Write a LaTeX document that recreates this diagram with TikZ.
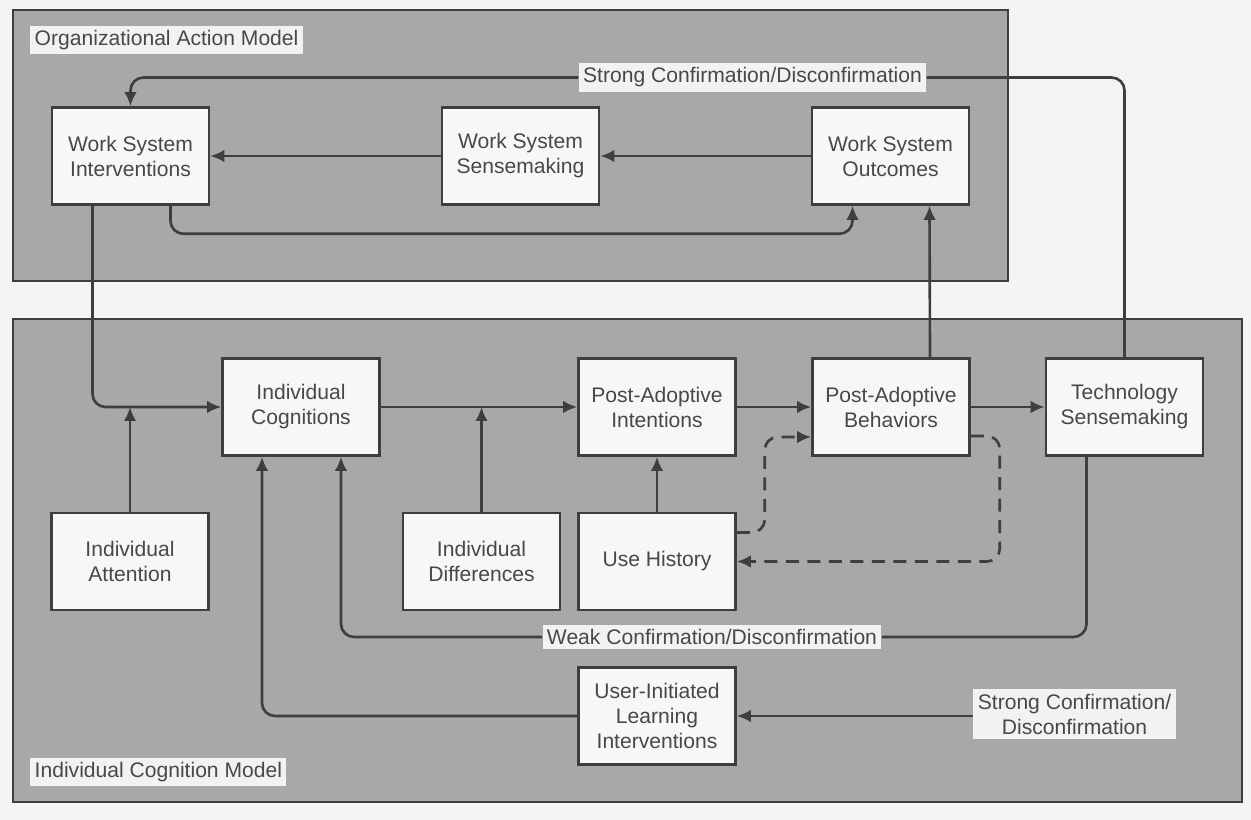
\documentclass[tikz,border=0pt]{standalone}
\usepackage{fontspec}
\setmainfont{Liberation Sans}
\usetikzlibrary{positioning,arrows.meta,calc}
\definecolor{ink}{RGB}{72,72,72}
\definecolor{wire}{RGB}{62,62,62}
\definecolor{panelgray}{RGB}{168,168,168}
\definecolor{boxfill}{RGB}{247,247,247}
\definecolor{tagfill}{RGB}{242,242,242}
\definecolor{paper}{RGB}{244,244,244}
\tikzset{
  box/.style={draw=wire, line width=1.5pt, fill=boxfill, align=center, text=ink,
              minimum width=3.14cm, minimum height=1.94cm, inner sep=2pt},
  panel/.style={draw=wire, line width=1.2pt, fill=panelgray},
  lbl/.style={fill=tagfill, text=ink, align=center, inner sep=2.5pt},
  conn/.style={draw=wire, line width=1.5pt, rounded corners=0.26cm},
  arr/.style={conn, -{Latex[length=2.8mm, width=2.5mm]}},
  darr/.style={arr, dash pattern=on 0.26cm off 0.17cm},
}

\begin{document}
\begin{tikzpicture}[x=0.02cm, y=-0.02cm, font=\fontsize{12}{14.2}\selectfont]
  \fill[paper] (0,0) rectangle (1251,820);
  \useasboundingbox (0,0) rectangle (1251,820);

  \draw[panel] (13,10) rectangle (1008,281);
  \draw[panel] (13,319) rectangle (1242,802);
  \node[lbl, anchor=west] (oam) at (30,40) {Organizational Action Model};
  \node[lbl, anchor=west] (icm) at (30,772) {Individual Cognition Model};

  \node[box] (wsi) at (130.5,156) {Work System\\Interventions};
  \node[box] (wss) at (520.5,156) {Work System\\Sensemaking};
  \node[box] (wso) at (890.5,156) {Work System\\Outcomes};

  \node[box] (ic)  at (301,407)   {Individual\\Cognitions};
  \node[box] (pai) at (657,407)   {Post-Adoptive\\Intentions};
  \node[box] (pab) at (891,407)   {Post-Adoptive\\Behaviors};
  \node[box] (ts)  at (1124.5,407) {Technology\\Sensemaking};
  \node[box] (ia)  at (130,561.5) {Individual\\Attention};
  \node[box] (id)  at (481.5,561.5) {Individual\\Differences};
  \node[box] (uh)  at (657,561.5) {Use History};
  \node[box] (uli) at (657,716)   {User-Initiated\\Learning\\Interventions};

  \node[lbl] (sctop) at (752.5,77.5) {Strong Confirmation/Disconfirmation};
  \node[lbl] (weak)  at (712,637)    {Weak Confirmation/Disconfirmation};
  \node[lbl] (scbot) at (1074.5,714) {Strong Confirmation/\\Disconfirmation};

  \draw[arr] (wso) -- (wss);
  \draw[arr] (wss) -- (wsi);
  \draw[arr] ($(wsi.south)+(40,0)$) -- ++(0,28) -| ($(wso.south)+(-38,0)$);
  \draw[conn] (ts.north) |- (sctop.east);
  \draw[arr] (sctop.west) -| (wsi.north);

  \draw[arr] ($(wsi.south)+(-38,0)$) |- (ic.west);
  \draw[arr] (ia.north) -- (ia.north |- ic.west);
  \draw[arr] (ic) -- (pai);
  \draw[arr] (id.north) -- (id.north |- pai.west);
  \draw[arr] (uh) -- (pai);
  \draw[arr] (pai) -- (pab);
  \draw[arr] (pab) -- (ts);
  \draw[arr] ($(pab.north)+(39,0)$) -- ($(wso.south)+(39,0)$);

  \draw[darr] ($(uh.east)+(0,-29)$) -- ++(28,0) |- ($(pab.west)+(0,30)$);
  \draw[darr] ($(pab.east)+(0,29)$) -- ++(29,0) |- (uh.east);

  \draw[conn] ($(ts.south)+(-38,0)$) |- (weak.east);
  \draw[arr] (weak.west) -| ($(ic.south)+(40,0)$);
  \draw[conn] ($(ts.south)+(38,0)$) -- ($(ts.south)+(38,0)$ |- scbot.north);
  \draw[arr] (scbot.west |- uli.east) -- (uli.east);
  \draw[arr] (uli.west) -| ($(ic.south)+(-39,0)$);
\end{tikzpicture}
\end{document}
